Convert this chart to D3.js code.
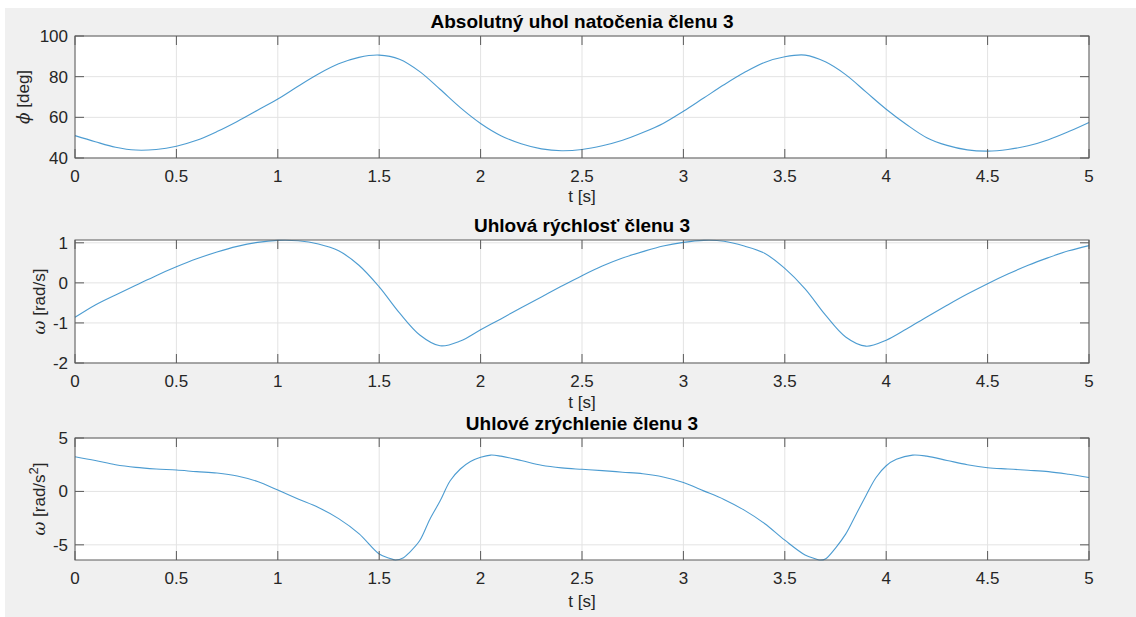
<!DOCTYPE html>
<html>
<head>
<meta charset="utf-8">
<title>clen 3</title>
<script src="https://cdn.jsdelivr.net/npm/d3@7"></script>
<style>
  body { margin: 0; background: #fff; }
  text { font-family: "Liberation Sans", Arial, sans-serif; fill: #262626; }
</style>
</head>
<body>
<script>
// time axis ticks
var xTicks = [0, 0.5, 1, 1.5, 2, 2.5, 3, 3.5, 4, 4.5, 5];
var xTickLabels = ["0", "0.5", "1", "1.5", "2", "2.5", "3", "3.5", "4", "4.5", "5"];

// uhol natocenia [deg]
var angleT = [0,0.1,0.2,0.3,0.4,0.5,0.6,0.7,0.8,0.9,1.0,1.1,1.2,1.3,1.4,1.5,1.6,1.7,1.8,1.9,2.0,
  2.1,2.2,2.3,2.4,2.5,2.6,2.7,2.8,2.9,3.0,3.1,3.2,3.3,3.4,3.5,3.6,3.7,3.8,3.9,4.0,
  4.1,4.2,4.3,4.4,4.5,4.6,4.7,4.8,4.9,5.0];
var angleDeg = [51,48,45.3,43.9,44.2,45.8,48.7,53,58,63.5,69,75.3,81.3,86.3,89.5,90.6,88.6,82.5,73.8,64.8,57,
  51,47,44.5,43.6,44.2,46,48.7,52.5,57,63,69.5,76,82,87,89.8,90.6,87.3,81,72.5,64,
  56.5,50,46.2,44,43.4,44.2,46,49,53,57.5];

// uhlova rychlost [rad/s]
var velT = angleT;
var velRad = [-0.86,-0.55,-0.3,-0.06,0.18,0.4,0.6,0.77,0.91,1.01,1.06,1.05,0.97,0.8,0.44,-0.1,-0.75,-1.3,-1.57,-1.45,-1.17,
  -0.9,-0.62,-0.35,-0.08,0.18,0.42,0.62,0.78,0.92,1.01,1.06,1.04,0.92,0.74,0.36,-0.15,-0.8,-1.35,-1.58,-1.43,
  -1.15,-0.85,-0.56,-0.28,-0.02,0.22,0.44,0.63,0.8,0.93];

// uhlove zrychlenie [rad/s^2]
var accT = [0,0.1,0.2,0.3,0.4,0.5,0.6,0.7,0.8,0.9,1.0,1.1,1.2,1.3,1.4,1.5,1.55,1.58,1.62,1.65,1.7,1.75,1.8,1.85,1.9,1.95,2.0,2.05,
  2.1,2.2,2.3,2.4,2.5,2.6,2.7,2.8,2.9,3.0,3.1,3.2,3.3,3.4,3.5,3.6,3.65,3.67,3.7,3.75,3.8,3.85,3.9,3.95,4.0,4.05,4.13,
  4.2,4.3,4.4,4.5,4.6,4.7,4.8,4.9,5.0];
var accRad = [3.25,2.9,2.5,2.25,2.1,2.0,1.85,1.72,1.45,0.93,0.13,-0.7,-1.5,-2.55,-3.95,-5.86,-6.25,-6.42,-6.2,-5.7,-4.6,-2.6,-0.9,1.0,2.1,2.8,3.2,3.4,
  3.3,2.9,2.45,2.2,2.07,1.95,1.8,1.65,1.35,0.83,0.05,-0.75,-1.75,-3.0,-4.56,-5.95,-6.3,-6.42,-6.32,-5.3,-4.0,-2.2,-0.4,1.3,2.4,3.0,3.4,
  3.3,2.9,2.5,2.22,2.1,1.98,1.85,1.6,1.3];

var panels = [
  { title: "Absolutný uhol natočenia členu 3", t: angleT, v: angleDeg, dom: [40, 100],
    ticks: [40, 60, 80, 100], top: 36, bottom: 158, ylab: "deg", sym: "ϕ", sup: null, ylx: 29, xlabY: 202 },
  { title: "Uhlová rýchlosť členu 3", t: velT, v: velRad, dom: [-2, 1.07],
    ticks: [-2, -1, 0, 1], top: 240, bottom: 363, ylab: "rad/s", sym: "ω", sup: null, ylx: 45, xlabY: 408 },
  { title: "Uhlové zrýchlenie členu 3", t: accT, v: accRad, dom: [-6.42, 5],
    ticks: [-5, 0, 5], top: 438, bottom: 560, ylab: "rad/s", sym: "ω", sup: "2", ylx: 45, xlabY: 607 }
];

var W = 1136, H = 617;
var left = 75, right = 1089, tickLen = 9;

var svg = d3.select("body").append("svg").attr("width", W).attr("height", H);
svg.append("rect").attr("x", 5).attr("y", 8).attr("width", W - 5).attr("height", H - 8).attr("fill", "#f0f0f0");

var x = d3.scaleLinear().domain([0, 5]).range([left, right]);

panels.forEach(function(p) {
  var y = d3.scaleLinear().domain(p.dom).range([p.bottom, p.top]);
  var g = svg.append("g");

  g.append("rect").attr("x", left).attr("y", p.top).attr("width", right - left)
    .attr("height", p.bottom - p.top).attr("fill", "#fff");

  // grid
  g.selectAll(".gx").data(xTicks).enter().append("line")
    .attr("x1", d => x(d)).attr("x2", d => x(d)).attr("y1", p.top).attr("y2", p.bottom)
    .attr("stroke", "#e3e3e3").attr("stroke-width", 1);
  g.selectAll(".gy").data(p.ticks).enter().append("line")
    .attr("y1", d => y(d)).attr("y2", d => y(d)).attr("x1", left).attr("x2", right)
    .attr("stroke", "#e3e3e3").attr("stroke-width", 1);

  // curve
  var line = d3.line().x((d, i) => x(p.t[i])).y(d => y(d)).curve(d3.curveCatmullRom.alpha(0.5));
  g.append("path").datum(p.v).attr("d", line).attr("fill", "none")
    .attr("stroke", "#0072bd").attr("stroke-opacity", 0.7).attr("stroke-width", 1.1);

  // ticks on all four sides
  var tk = g.append("g").attr("stroke", "#5a5a5a").attr("stroke-width", 1);
  xTicks.forEach(function(d) {
    tk.append("line").attr("x1", x(d)).attr("x2", x(d)).attr("y1", p.bottom).attr("y2", p.bottom - tickLen);
    tk.append("line").attr("x1", x(d)).attr("x2", x(d)).attr("y1", p.top).attr("y2", p.top + tickLen);
  });
  p.ticks.forEach(function(d) {
    tk.append("line").attr("y1", y(d)).attr("y2", y(d)).attr("x1", left).attr("x2", left + tickLen);
    tk.append("line").attr("y1", y(d)).attr("y2", y(d)).attr("x1", right).attr("x2", right - tickLen);
  });

  g.append("rect").attr("x", left).attr("y", p.top).attr("width", right - left)
    .attr("height", p.bottom - p.top).attr("fill", "none").attr("stroke", "#5a5a5a").attr("stroke-width", 1);

  // tick labels
  g.selectAll(".xl").data(xTicks).enter().append("text")
    .attr("x", d => x(d)).attr("y", p.bottom + 24).attr("text-anchor", "middle")
    .style("font-size", "17px").text((d, i) => xTickLabels[i]);
  g.selectAll(".yl").data(p.ticks).enter().append("text")
    .attr("x", left - 7).attr("y", d => y(d) + 6).attr("text-anchor", "end")
    .style("font-size", "17px").text(d => d);

  // title
  g.append("text").attr("x", (left + right) / 2).attr("y", p.top - 8).attr("text-anchor", "middle")
    .style("font-size", "19px").style("font-weight", "bold").style("fill", "#000").text(p.title);

  // x label
  g.append("text").attr("x", (left + right) / 2).attr("y", p.xlabY).attr("text-anchor", "middle")
    .style("font-size", "17px").text("t [s]");

  // y label
  var yl = g.append("text")
    .attr("transform", "translate(" + p.ylx + "," + ((p.top + p.bottom) / 2) + ") rotate(-90)")
    .attr("text-anchor", "middle").style("font-size", "17px");
  yl.append("tspan").style("font-style", "italic").style("font-family", "'DejaVu Serif', serif").text(p.sym);
  yl.append("tspan").text(" [" + p.ylab);
  if (p.sup) {
    yl.append("tspan").attr("dy", -7).style("font-size", "13px").text(p.sup);
    yl.append("tspan").attr("dy", 7).text("]");
  } else {
    yl.append("tspan").text("]");
  }
});
</script>
</body>
</html>
